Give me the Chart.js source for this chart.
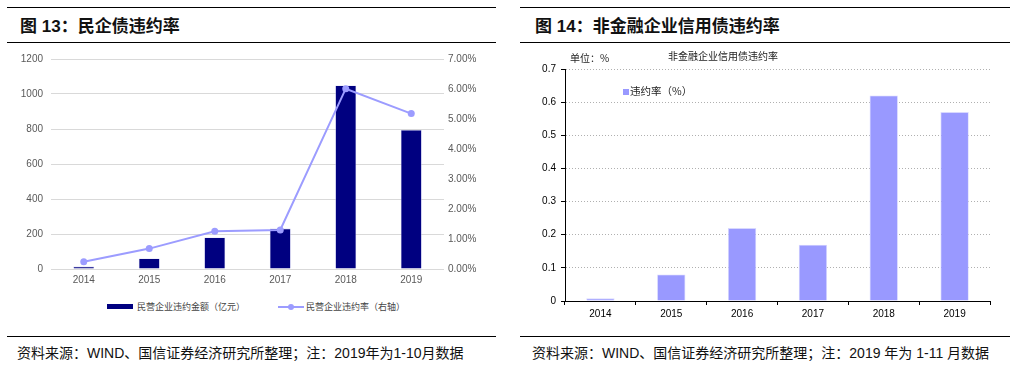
<!DOCTYPE html>
<html>
<head>
<meta charset="utf-8">
<script src="https://cdn.jsdelivr.net/npm/chart.js@4/dist/chart.umd.min.js"></script>
<style>
  body { margin: 0; background: #fff; font-family: "Liberation Sans", "Noto Sans CJK SC", sans-serif; }
  #page { position: relative; width: 1016px; height: 371px; overflow: hidden; }
  .rule { position: absolute; height: 0; border-top: 1.5px solid #000; }
  .title { position: absolute; top: 16px; font-size: 17px; font-weight: bold; color: #111; font-family: "Liberation Sans", "Noto Sans CJK SC", sans-serif; line-height: 22px; white-space: nowrap; }
  .src { position: absolute; top: 343px; font-size: 14px; color: #111; line-height: 20px; white-space: nowrap; }
  .txt { position: absolute; white-space: nowrap; color: #222; font-family: "Noto Sans CJK SC", sans-serif; }
  canvas { position: absolute; }
</style>
</head>
<body>
<div id="page">
  <div class="rule" style="left:7px; width:489px; top:7px;"></div>
  <div class="rule" style="left:7px; width:489px; top:42px;"></div>
  <div class="rule" style="left:7px; width:489px; top:336px;"></div>
  <div class="title" style="left:20px;">图 13：民企债违约率</div>
  <div class="src" style="left:17px;">资料来源：WIND、国信证券经济研究所整理；注：2019年为1-10月数据</div>

  <div class="rule" style="left:520px; width:490px; top:7px;"></div>
  <div class="rule" style="left:520px; width:490px; top:42px;"></div>
  <div class="rule" style="left:520px; width:490px; top:336px;"></div>
  <div class="title" style="left:535px;">图 14：非金融企业信用债违约率</div>
  <div class="src" style="left:532px;">资料来源：WIND、国信证券经济研究所整理；注：2019 年为 1-11 月数据</div>

  <canvas id="left" width="508" height="255" style="left:0; top:45px; width:508px; height:255px;"></canvas>
  <div class="txt" style="left:107px; top:304px; width:26px; height:5px; background:#000080;"></div>
  <div class="txt" style="left:137px; top:300px; font-size:9px; color:#444;">民营企业违约金额（亿元）</div>
  <div class="txt" style="left:278px; top:306px; width:26px; height:0; border-top:2px solid #9c9cff;"></div>
  <div class="txt" style="left:288px; top:304px; width:6px; height:6px; border-radius:3px; background:#9c9cff;"></div>
  <div class="txt" style="left:306px; top:300px; font-size:9px; color:#444;">民营企业违约率（右轴）</div>

  <canvas id="right" width="508" height="270" style="left:508px; top:55px; width:508px; height:270px;"></canvas>
  <div class="txt" style="left:570px; top:50px; font-size:10px;">单位：%</div>
  <div class="txt" style="left:668px; top:48px; font-size:10px;">非金融企业信用债违约率</div>
  <div class="txt" style="left:623px; top:89px; width:6px; height:6px; background:#9999ff;"></div>
  <div class="txt" style="left:630px; top:83px; font-size:10.5px;">违约率（%）</div>
</div>
<script>
// 图13 民企债违约
var years = ["2014", "2015", "2016", "2017", "2018", "2019"];
var defaultAmount = [14, 60, 180, 231, 1049, 795];      // 亿元
var defaultRate = [0.24, 0.68, 1.26, 1.30, 6.01, 5.18]; // %, 右轴

// 图14 非金融企业信用债违约率
var rateYears = ["2014", "2015", "2016", "2017", "2018", "2019"];
var creditRate = [0.008, 0.08, 0.22, 0.17, 0.62, 0.57];

var rightTicks = [0, 0.1, 0.2, 0.3, 0.4, 0.5, 0.6, 0.7];

Chart.defaults.animation = false;
Chart.defaults.font.family = "'Liberation Sans', Arial, sans-serif";

new Chart(document.getElementById('left'), {
  data: {
    labels: years,
    datasets: [
      {
        type: 'line',
        label: '民营企业违约率（右轴）',
        data: defaultRate,
        yAxisID: 'y1',
        borderColor: '#9c9cff',
        backgroundColor: '#9c9cff',
        borderWidth: 2,
        pointRadius: 3.5,
        pointBorderWidth: 0,
        order: 0
      },
      {
        type: 'bar',
        label: '民营企业违约金额（亿元）',
        data: defaultAmount,
        yAxisID: 'y',
        backgroundColor: '#000080',
        borderColor: '#c8c8f0',
        borderWidth: 0.6,
        barPercentage: 0.32,
        categoryPercentage: 1,
        order: 1
      }
    ]
  },
  options: {
    responsive: false,
    layout: { padding: { top: 11, left: 0, right: 0, bottom: 0 } },
    plugins: { legend: { display: false }, tooltip: { enabled: false } },
    scales: {
      x: {
        grid: { display: false, drawTicks: false },
        border: { display: false },
        ticks: { color: '#595959', font: { size: 10 }, padding: 5 },
        afterFit: function(s) { s.height = 31; }
      },
      y: {
        position: 'left',
        min: 0, max: 1200,
        ticks: {
          stepSize: 200, color: '#595959', font: { size: 10 }, padding: 8,
          callback: function(v) { return String(v); }
        },
        grid: { color: '#d9d9d9', lineWidth: 1, drawTicks: false },
        border: { display: false },
        afterFit: function(s) { s.width = 51; }
      },
      y1: {
        position: 'right',
        min: 0, max: 7,
        ticks: {
          stepSize: 1, color: '#595959', font: { size: 10 }, padding: 4,
          callback: function(v) { return v.toFixed(2) + '%'; }
        },
        grid: { drawOnChartArea: false, drawTicks: false },
        border: { display: false },
        afterFit: function(s) { s.width = 64; }
      }
    }
  }
});

new Chart(document.getElementById('right'), {
  type: 'bar',
  data: {
    labels: rateYears,
    datasets: [{
      label: '违约率（%）',
      data: creditRate,
      backgroundColor: '#9999ff',
      borderColor: '#d8d8ff',
      borderWidth: 0.8,
      barPercentage: 0.4,
      categoryPercentage: 1
    }]
  },
  options: {
    responsive: false,
    layout: { padding: { top: 14, left: 0, right: 26, bottom: 0 } },
    plugins: { legend: { display: false }, tooltip: { enabled: false } },
    scales: {
      x: {
        grid: { drawOnChartArea: false, drawTicks: true, tickLength: 4, tickColor: '#000', offset: true },
        border: { display: true, color: '#000', width: 1 },
        ticks: { color: '#000', font: { size: 10 }, padding: 3 },
        afterFit: function(s) { s.height = 24; }
      },
      y: {
        min: 0, max: 0.7,
        afterBuildTicks: function(s) { s.ticks = rightTicks.map(function(v) { return { value: v }; }); },
        ticks: {
          color: '#000', font: { size: 10 }, padding: 5,
          callback: function(v) { return v === 0 ? '0' : v.toFixed(1); }
        },
        grid: { color: '#b0b0b0', lineWidth: 1, tickLength: 4, tickColor: '#000' },
        border: { display: true, color: '#000', width: 1, dash: [1, 2] },
        afterFit: function(s) { s.width = 57; }
      }
    }
  }
});
</script>
</body>
</html>
